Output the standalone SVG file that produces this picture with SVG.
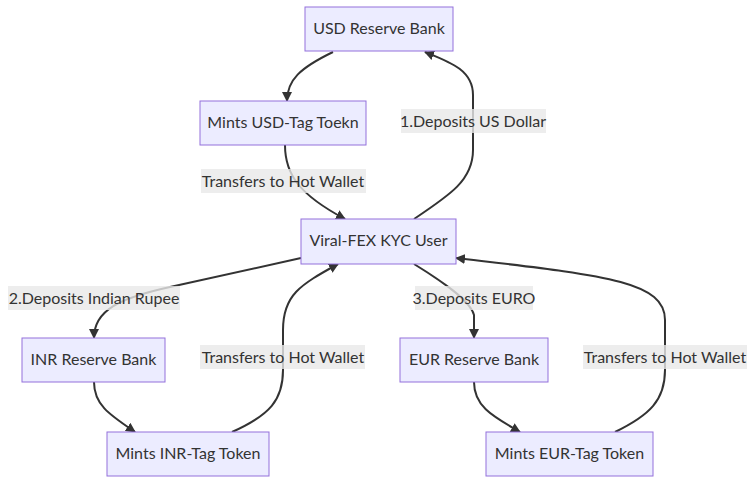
<svg xmlns="http://www.w3.org/2000/svg" width="756" height="484" viewBox="0 0 756 484">
<style>
.node rect{fill:#ECECFF;stroke:#9370DB;stroke-width:1}
text{font-family:Lato,"Liberation Sans",sans-serif;font-size:16px;fill:#333;text-anchor:middle;dominant-baseline:central}
.edge{fill:none;stroke:#333;stroke-width:2}
.lbl rect{fill:#e8e8e8;opacity:0.8}
</style>
<defs>
<marker id="arr" viewBox="0 0 10 10" refX="9" refY="5" markerWidth="10" markerHeight="10" markerUnits="userSpaceOnUse" orient="auto">
<path d="M0,0 L10,5 L0,10 z" fill="#333"/>
</marker>
</defs>
<rect width="756" height="484" fill="#fff"/>
<g id="connectors">
<path class="edge" marker-end="url(#arr)" d="M333,52 C300,68 287,80 287,101"/>
<path class="edge" marker-end="url(#arr)" d="M285,145 C285,175 300,195 345,219"/>
<path class="edge" marker-end="url(#arr)" d="M414,219 C450,195 473,180 473,150 L473,95 C473,70 450,62 425,52"/>
<path class="edge" marker-end="url(#arr)" d="M301,258 L170,287 C120,298 94,310 94,338"/>
<path class="edge" marker-end="url(#arr)" d="M94,382 C94,405 110,415 135,432"/>
<path class="edge" marker-end="url(#arr)" d="M232,432 C270,415 283,400 283,370 L283,330 C283,295 300,285 338,264"/>
<path class="edge" marker-end="url(#arr)" d="M414,264 C440,280 470,300 474,315 L474,338"/>
<path class="edge" marker-end="url(#arr)" d="M474,382 C474,405 490,415 520,432"/>
<path class="edge" marker-end="url(#arr)" d="M615,432 C650,415 665,400 665,370 L665,320 C665,280 600,275 456,258"/>
</g>
<g id="labels">
<g class="lbl"><rect x="401" y="109" width="145" height="24"/><text x="473" y="120">1.Deposits US Dollar</text></g>
<g class="lbl"><rect x="201" y="169" width="165" height="24"/><text x="283" y="180">Transfers to Hot Wallet</text></g>
<g class="lbl"><rect x="8" y="286" width="172" height="24"/><text x="94" y="297">2.Deposits Indian Rupee</text></g>
<g class="lbl"><rect x="200" y="345" width="165" height="24"/><text x="283" y="356">Transfers to Hot Wallet</text></g>
<g class="lbl"><rect x="415" y="286" width="118" height="24"/><text x="474" y="297">3.Deposits EURO</text></g>
<g class="lbl"><rect x="583" y="345" width="164" height="24"/><text x="665" y="356">Transfers to Hot Wallet</text></g>
</g>
<g id="usd" class="node"><rect x="305" y="7" width="148" height="44"/><text x="379" y="27">USD Reserve Bank</text></g>
<g id="mintsusd" class="node"><rect x="200" y="101" width="166" height="44"/><text x="283" y="121">Mints USD-Tag Toekn</text></g>
<g id="user" class="node"><rect x="301" y="219" width="155" height="45"/><text x="378.5" y="239.5">Viral-FEX KYC User</text></g>
<g id="inr" class="node"><rect x="22" y="338" width="143" height="44"/><text x="93.5" y="358">INR Reserve Bank</text></g>
<g id="mintsinr" class="node"><rect x="107" y="432" width="162" height="44"/><text x="188" y="452">Mints INR-Tag Token</text></g>
<g id="eur" class="node"><rect x="400" y="338" width="148" height="44"/><text x="474" y="358">EUR Reserve Bank</text></g>
<g id="mintseur" class="node"><rect x="486" y="432" width="167" height="44"/><text x="569.5" y="452">Mints EUR-Tag Token</text></g>
</svg>
